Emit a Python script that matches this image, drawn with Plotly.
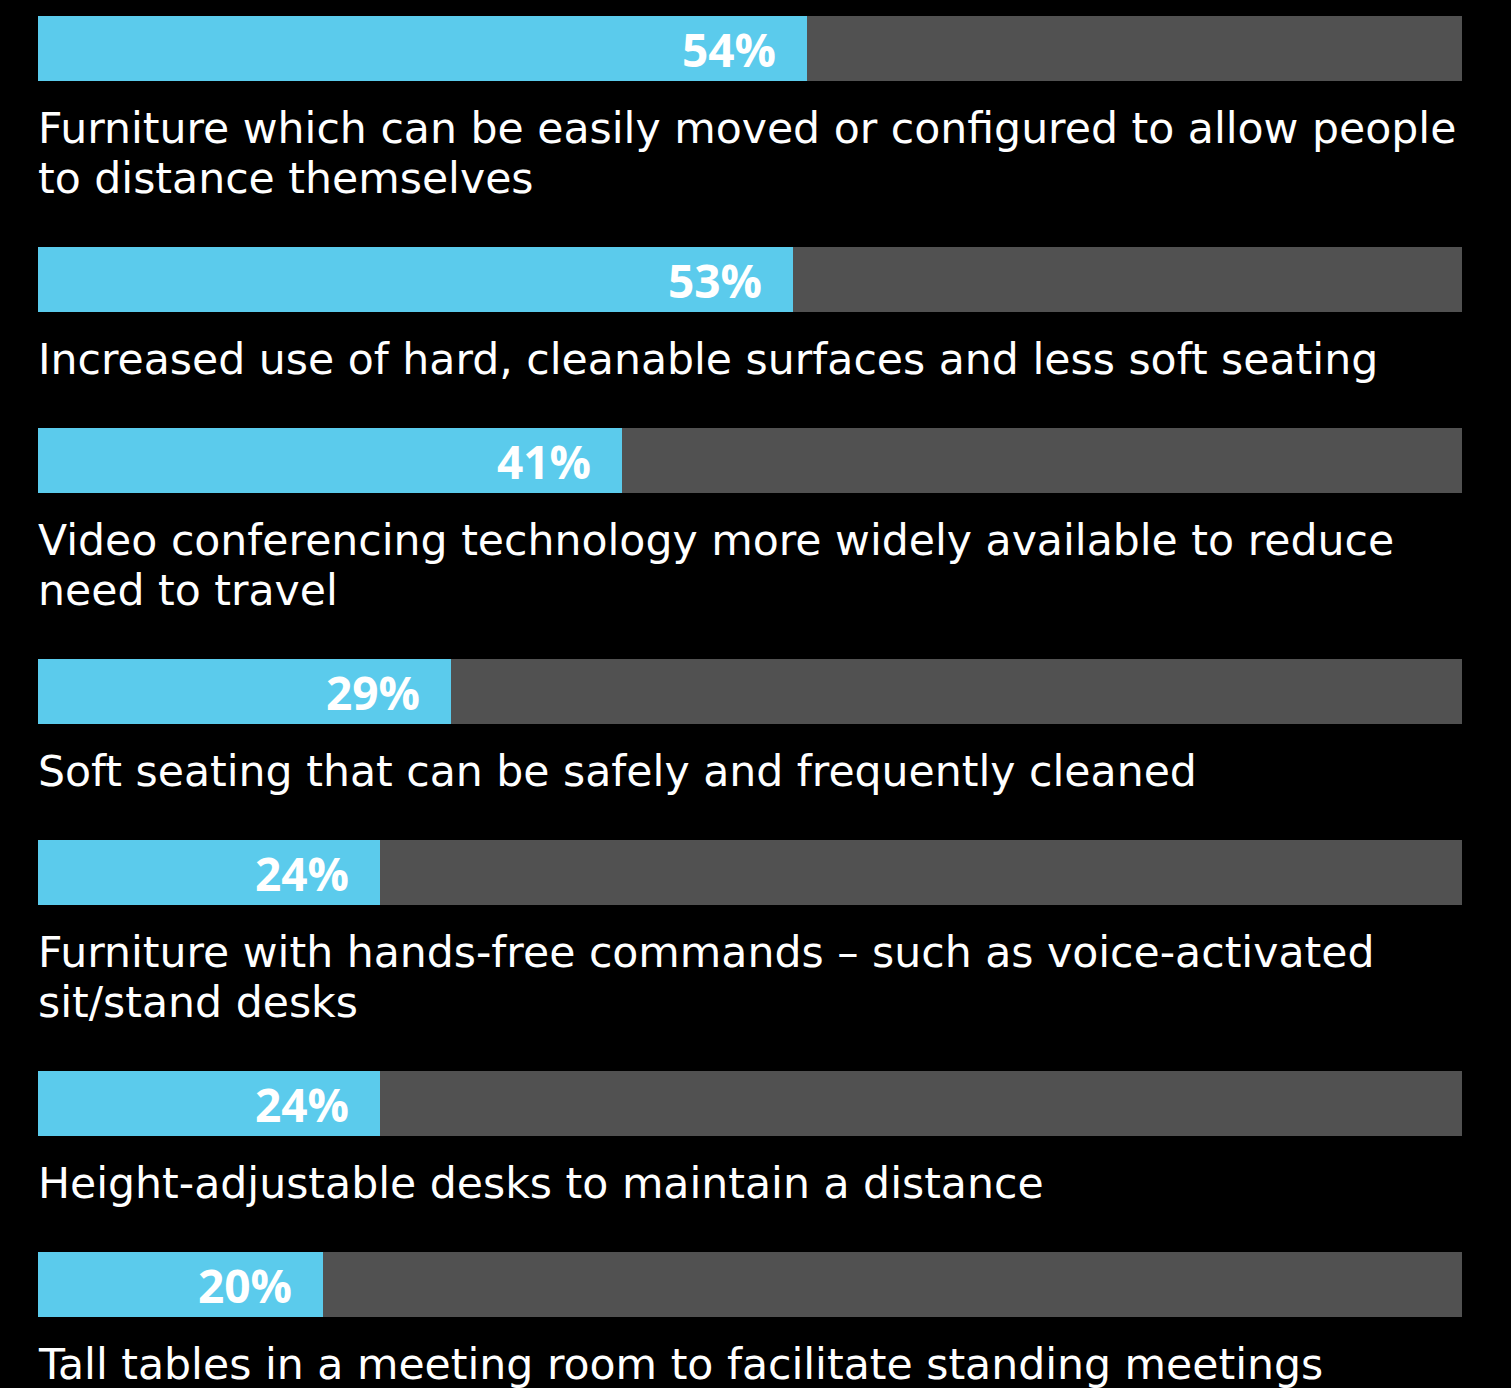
import plotly.graph_objects as go

# ---- data ----
categories = [
    "Furniture which can be easily moved or configured to allow people<br>to distance themselves",
    "Increased use of hard, cleanable surfaces and less soft seating",
    "Video conferencing technology more widely available to reduce<br>need to travel",
    "Soft seating that can be safely and frequently cleaned",
    "Furniture with hands-free commands – such as voice-activated<br>sit/stand desks",
    "Height-adjustable desks to maintain a distance",
    "Tall tables in a meeting room to facilitate standing meetings",
]
values = [54, 53, 41, 29, 24, 24, 20]
value_labels = ["54%", "53%", "41%", "29%", "24%", "24%", "20%"]
max_value = 100

# ---- layout constants ----
W, H = 1511, 1388
BAR_H = 65
FIRST_TOP = 16
ROW_STEP = 181
EXTRA_LINE = 50
LABEL_SIZE = 42.6
PCT_SIZE = 46
LABEL_FONT = "DejaVu Sans"
PCT_FONT = "Open Sans"
BLUE = "#5BCBEC"
GRAY = "#515151"

line_lists = [c.split("<br>") for c in categories]
tops = []
t = FIRST_TOP
for lines in line_lists:
    tops.append(t)
    t += ROW_STEP + EXTRA_LINE * (len(lines) - 1)
centers = [tp + BAR_H / 2 for tp in tops]

fig = go.Figure()
fig.add_trace(go.Bar(
    x=[max_value] * len(values), y=centers, orientation="h", width=BAR_H,
    marker=dict(color=GRAY, line=dict(width=0)), hoverinfo="skip", showlegend=False,
))
fig.add_trace(go.Bar(
    x=values, y=centers, orientation="h", width=BAR_H,
    marker=dict(color=BLUE, line=dict(width=0)), showlegend=False,
))

annotations = []
for v, lab, c in zip(values, value_labels, centers):
    annotations.append(dict(
        x=v, y=c, xref="x", yref="y", text="<b>" + lab + "</b>", showarrow=False,
        xanchor="right", yanchor="middle", xshift=-29,
        font=dict(family=PCT_FONT, size=PCT_SIZE, color="white"),
    ))

asc_off = 0.346 * LABEL_SIZE
for lines, tp in zip(line_lists, tops):
    for i, ln in enumerate(lines):
        baseline = tp + 127 + EXTRA_LINE * i
        annotations.append(dict(
            x=0, y=baseline - asc_off, xref="x", yref="y", text=ln, showarrow=False,
            xanchor="left", yanchor="middle", xshift=-2,
            font=dict(family=LABEL_FONT, size=LABEL_SIZE, color="white"),
        ))

fig.update_layout(
    width=W, height=H, barmode="overlay",
    margin=dict(l=38, r=W - 1462, t=0, b=0),
    paper_bgcolor="black", plot_bgcolor="black",
    xaxis=dict(range=[0, max_value], visible=False, fixedrange=True),
    yaxis=dict(range=[H, 0], visible=False, fixedrange=True),
    annotations=annotations,
    bargap=0,
)

fig.write_html("out.html", config={"displayModeBar": False})
